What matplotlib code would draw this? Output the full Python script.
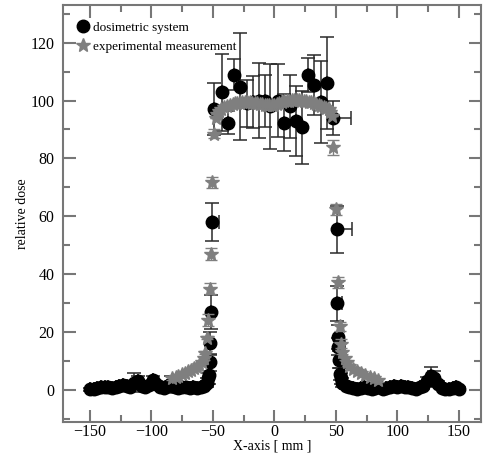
import matplotlib.pyplot as plt
from matplotlib.ticker import MultipleLocator

plt.rcParams['font.family'] = ['Liberation Serif', 'DejaVu Serif']

# dosimetric system (black circles)
dos_x = [-150, -147, -144, -141, -138, -135, -132, -129, -126, -123, -120, -117,
         -114, -111, -108, -105, -102, -99, -96, -93, -90, -87, -84, -81, -78,
         -75, -72, -69, -66, -63, -60, -57, -55, -54, -53, -52.5, -52, -51.5, -51,
         -49.2, -42.7, -37.8, -32.9, -28, -22.4, -17.5, -12.6, -7.6, -3.7, 3.0,
         7.7, 12.6, 17.5, 22.4, 27.2, 32.0, 37.8, 42.7, 47.6,
         50.8, 51.2, 51.6, 52.0, 52.5, 53.0, 54.0, 55, 58, 61, 64, 67, 70, 73, 76,
         79, 82, 85, 88, 91, 94, 97, 100, 103, 106, 109, 112, 115, 118, 121, 124,
         127, 130, 133, 136, 139, 142, 145, 148, 150]
dos_y = [0.3, 0.5, 0.8, 1.0, 1.2, 1.0, 0.8, 1.2, 1.5, 1.8, 1.3, 1.0,
         2.5, 3.0, 1.5, 1.0, 1.8, 3.5, 2.0, 1.2, 0.8, 1.5, 2.0, 1.0, 0.8,
         1.2, 1.0, 0.8, 1.0, 0.7, 1.0, 1.5, 2.5, 4.0, 5.2, 9.5, 16.2, 26.9, 58.0,
         97.2, 102.8, 92.4, 109.0, 104.8, 99.0, 99.5, 100.0, 99.8, 98.0, 100.0,
         92.4, 98.0, 93.0, 90.7, 108.8, 105.4, 99.5, 106.0, 94.0,
         55.5, 30.0, 18.3, 15.0, 10.5, 5.5, 4.0, 2.5, 1.5, 1.0, 0.8, 0.5, 0.8, 1.0, 0.7,
         0.5, 0.8, 1.0, 0.5, 0.8, 1.2, 1.5, 1.0, 1.5, 1.2, 1.0, 0.8, 0.5, 1.0, 1.5, 3.0,
         5.0, 4.0, 2.0, 0.8, 0.5, 0.3, 0.8, 1.0, 0.5]
dos_yerr = [0.5, 0.5, 0.5, 0.5, 0.6, 0.5, 0.5, 0.6, 0.7, 0.8, 0.6, 0.6,
            3.3, 2.0, 0.8, 0.6, 0.8, 1.5, 1.0, 0.8, 0.6, 0.8, 3.0, 1.0, 0.8,
            0.8, 0.8, 0.6, 0.8, 0.6, 0.8, 1.0, 1.5, 2.0, 3.0, 3.0, 4.0, 6.0, 6.5,
            9.0, 13.4, 4.0, 5.5, 18.5, 8.0, 9.0, 13.0, 9.0, 14.6, 12.5,
            10.0, 11.0, 12.0, 12.5, 6.0, 10.5, 14.0, 16.0, 6.0,
            8.0, 6.0, 4.0, 3.0, 3.0, 2.0, 2.0, 1.5, 1.0, 0.8, 0.6, 0.6, 0.6, 0.8, 0.6,
            0.6, 0.6, 0.8, 0.6, 0.6, 0.8, 0.8, 0.8, 0.8, 0.8, 0.6, 0.6, 0.6, 0.8, 1.0, 1.5,
            3.0, 2.5, 1.0, 0.6, 0.6, 0.5, 0.6, 0.6, 0.5]
# only a few points show a (right-hand) horizontal error bar
dos_xerr_right = [0] * 38 + [6] + [0] * 19 + [15] + [12, 4, 3, 5] + [0] * 36

# experimental measurement (gray stars)
exp_x = [-83, -80, -78, -75, -73, -70, -68, -65, -63, -61, -59, -57.5, -56.5, -55,
         -54, -52.5, -51.6, -50.6, -49.2, -47.5, -46.5, -45, -43, -41, -38.6, -36,
         -34, -32, -30, -28, -26, -24, -22, -20, -18, -16, -14, -12, -10, -8, -6,
         -4, -2, 0, 2, 4, 6, 8, 10, 12, 14, 16, 18, 20, 22, 24, 26, 28, 30, 32, 34,
         36, 38, 40, 42, 44, 45.5, 46.8, 47.6, 50.0, 51.6, 53, 54, 55, 57, 59, 61,
         64, 67, 70, 74, 78, 81, 84]
exp_y = [4.0, 4.5, 5.0, 5.5, 6.0, 6.5, 7.0, 7.5, 8.0, 8.8, 9.6, 11.0, 12.8, 18.0,
         24.1, 35.0, 46.9, 71.7, 88.6, 94.0, 95.5, 96.5, 97.2, 97.8, 98.2, 98.6,
         98.9, 99.1, 99.2, 99.3, 99.4, 99.4, 99.4, 99.4, 99.3, 99.2, 99.1, 98.9,
         98.7, 98.5, 98.4, 98.3, 98.4, 98.6, 98.9, 99.2, 99.5, 99.7, 99.9, 100.0,
         100.1, 100.1, 100.1, 100.1, 100.0, 99.9, 99.8, 99.6, 99.4, 99.1, 98.8,
         98.5, 98.2, 97.9, 97.5, 97.0, 96.0, 94.5, 83.8, 62.4, 37.2, 22.0, 16.0,
         13.0, 11.0, 9.5, 8.3, 7.3, 6.5, 5.8, 5.2, 4.6, 4.0, 3.4]
exp_yerr = [0.5] * 14 + [2, 2, 2, 2, 1.5] + [0] * 49 + [2.5, 2, 2, 1.5, 1.5] + [0.5] * 11

fig = plt.figure(figsize=(4.83, 4.58), dpi=100)
ax = fig.add_axes([0.130, 0.079, 0.866, 0.910])

xerr_left = [0] * len(dos_x)
ax.errorbar(dos_x, dos_y, yerr=dos_yerr, xerr=[xerr_left, dos_xerr_right],
            fmt='none', ecolor='#2a2a2a', elinewidth=1.1, capsize=5, capthick=1.1,
            zorder=2)
ax.plot(dos_x, dos_y, 'o', color='black', ms=9, label='dosimetric system', zorder=3)

ax.errorbar(exp_x, exp_y, yerr=exp_yerr, fmt='none', ecolor='#808080',
            elinewidth=1.0, capsize=4, zorder=4)
ax.plot(exp_x, exp_y, '*', color='#7f7f7f', ms=10, mec='#7f7f7f',
        label='experimental measurement', zorder=5)

ax.set_xlim(-172, 168)
ax.set_ylim(-11, 133)
ax.xaxis.set_major_locator(MultipleLocator(50))
ax.xaxis.set_minor_locator(MultipleLocator(25))
ax.yaxis.set_major_locator(MultipleLocator(20))
ax.yaxis.set_minor_locator(MultipleLocator(10))

for s in ax.spines.values():
    s.set_color('#777777')
    s.set_linewidth(1.5)
ax.tick_params(which='both', direction='in', top=True, right=True,
               color='#777777', width=1.5, labelsize=11.5)
ax.tick_params(axis='x', pad=1.5)
ax.tick_params(axis='y', pad=6)
ax.tick_params(which='major', length=9)
ax.tick_params(which='minor', length=5)

ax.set_xlabel('X-axis [ mm ]', fontsize=10, labelpad=-0.5)
ax.set_ylabel('relative dose', fontsize=10, labelpad=1)

ax.legend(loc='upper left', frameon=False, fontsize=9.5, handletextpad=0.25,
          handlelength=1.0, borderaxespad=0.4, labelspacing=0.5,
          bbox_to_anchor=(0.007, 0.985))

plt.savefig('out.png', dpi=100)
